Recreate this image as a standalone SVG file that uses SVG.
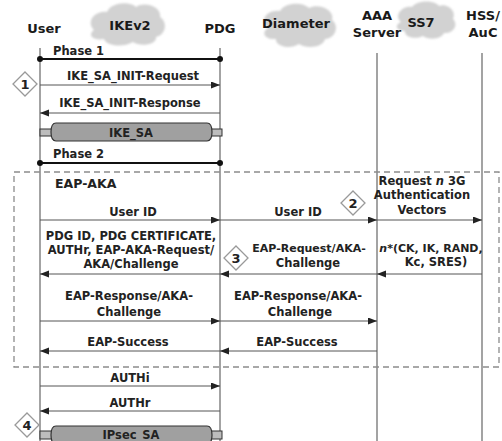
<svg xmlns="http://www.w3.org/2000/svg" width="502" height="441" viewBox="0 0 502 441">
<style>
text{font-family:"DejaVu Sans","Liberation Sans",sans-serif;font-weight:bold;fill:#222}
.h{font-size:13px;text-anchor:middle;fill:#1a1a1a}
.m{font-size:11.5px;text-anchor:middle}
.life{stroke:#8c8c8c;stroke-width:1.6}
.msg{stroke:#555;stroke-width:1;fill:none;marker-end:url(#ah)}
.phase{stroke:#111;stroke-width:2}
.dot{fill:#111}
.cloud{fill:#d2d2d2;filter:url(#soft)}
.dia{fill:#fff;stroke:#999;stroke-width:1.3}
.num{font-size:13px;text-anchor:middle}
.cyl{fill:#a0a0a0;stroke:#333;stroke-width:1.2}
.cap{fill:#bdbdbd;stroke:#333;stroke-width:1}
</style>
<defs>
<marker id="ah" markerUnits="userSpaceOnUse" markerWidth="10" markerHeight="8" refX="9" refY="3.5" orient="auto">
<path d="M0,0 L9,3.5 L0,7 z" fill="#222"/>
</marker>
<filter id="soft" x="-10%" y="-10%" width="120%" height="120%"><feGaussianBlur stdDeviation="0.8"/></filter>
</defs>

<!-- clouds -->
<g id="cloud-ikev2">
<path class="cloud" d="M94,30 C85,21 96,10 107,12 C111,2 130,1 136,7 C145,1 162,7 160,17 C168,22 166,35 156,37 C157,45 140,47 133,42 C123,48 106,46 104,39 C93,41 87,35 94,30 z"/>
<text class="h" x="130" y="30">IKEv2</text>
</g>
<g id="cloud-diameter">
<path class="cloud" d="M268,28 C258,20 268,9 280,11 C285,2 303,2 309,8 C319,3 335,10 332,20 C340,26 335,39 325,39 C323,48 306,49 299,44 C290,50 275,46 276,39 C264,40 261,32 268,28 z"/>
<text class="h" x="296" y="28">Diameter</text>
</g>
<g id="cloud-ss7">
<path class="cloud" d="M401,22 C393,15 403,5 412,7 C418,0 434,0 439,6 C447,3 457,11 453,19 C459,25 453,34 444,33 C441,40 428,40 423,36 C415,40 404,37 405,31 C396,31 394,25 401,22 z"/>
<text class="h" x="421" y="27">SS7</text>
</g>

<!-- entities -->
<g id="user"><text class="h" x="44" y="33">User</text><line class="life" x1="40" y1="48" x2="40" y2="441"/></g>
<g id="pdg"><text class="h" x="220" y="33">PDG</text><line class="life" x1="220" y1="48" x2="220" y2="441"/></g>
<g id="aaa"><text class="h" x="377" y="20">AAA</text><text class="h" x="377" y="37">Server</text><line class="life" x1="377" y1="53" x2="377" y2="441"/></g>
<g id="hss"><text class="h" x="483" y="20">HSS/</text><text class="h" x="483" y="37">AuC</text><line class="life" x1="482" y1="53" x2="482" y2="441"/></g>

<!-- EAP-AKA frame -->
<g id="eap-aka">
<rect x="14" y="172" width="485" height="195" fill="none" stroke="#8c8c8c" stroke-width="1.3" stroke-dasharray="6,4"/>
<text x="55" y="188" style="font-size:12.5px">EAP-AKA</text>
</g>

<!-- phases -->
<g id="phase1">
<line class="phase" x1="40" y1="59" x2="220" y2="59"/><circle class="dot" cx="40" cy="59" r="3"/><circle class="dot" cx="220" cy="59" r="3"/>
<text x="53" y="55" style="font-size:11.5px">Phase 1</text>
</g>
<g id="phase2">
<line class="phase" x1="40" y1="163" x2="220" y2="163"/><circle class="dot" cx="40" cy="163" r="3"/><circle class="dot" cx="220" cy="163" r="3"/>
<text x="53" y="158" style="font-size:11.5px">Phase 2</text>
</g>

<!-- tunnels -->
<g id="ike-sa">
<rect class="cap" x="40" y="129" width="15" height="7"/>
<rect class="cap" x="207" y="129" width="15" height="7"/>
<path class="cyl" d="M56,123 L207,123 Q212,123 212,132 Q212,141 207,141 L56,141 Q51,141 51,132 Q51,123 56,123 z"/>
<text class="m" x="131" y="137">IKE_SA</text>
</g>
<g id="ipsec-sa">
<rect class="cap" x="40" y="431" width="15" height="8"/>
<rect class="cap" x="207" y="431" width="15" height="8"/>
<path class="cyl" d="M56,426 L207,426 Q212,426 212,435 Q212,444 207,444 L56,444 Q51,444 51,435 Q51,426 56,426 z"/>
<text class="m" x="131" y="439">IPsec_SA</text>
</g>

<!-- step markers -->
<g id="step1"><path class="dia" d="M25,72 L37,84 L25,96 L13,84 z"/><text class="num" x="25" y="89">1</text></g>
<g id="step2"><path class="dia" d="M353,191 L365,203 L353,215 L341,203 z"/><text class="num" x="353" y="208">2</text></g>
<g id="step3"><path class="dia" d="M236,246 L248,258 L236,270 L224,258 z"/><text class="num" x="236" y="263">3</text></g>
<g id="step4"><path class="dia" d="M27,413 L39,425 L27,437 L15,425 z"/><text class="num" x="27" y="430">4</text></g>

<!-- connectors -->
<g id="connectors">
<line class="msg" x1="40" y1="85" x2="220" y2="85"/>
<line class="msg" x1="220" y1="113" x2="40" y2="113"/>
<line class="msg" x1="40" y1="220" x2="220" y2="220"/>
<line class="msg" x1="220" y1="220" x2="377" y2="220"/>
<line class="msg" x1="377" y1="220" x2="482" y2="220"/>
<line class="msg" x1="482" y1="274" x2="377" y2="274"/>
<line class="msg" x1="377" y1="274" x2="220" y2="274"/>
<line class="msg" x1="220" y1="274" x2="40" y2="274"/>
<line class="msg" x1="40" y1="321" x2="220" y2="321"/>
<line class="msg" x1="220" y1="321" x2="377" y2="321"/>
<line class="msg" x1="377" y1="351" x2="220" y2="351"/>
<line class="msg" x1="220" y1="351" x2="40" y2="351"/>
<line class="msg" x1="40" y1="386" x2="220" y2="386"/>
<line class="msg" x1="220" y1="411" x2="40" y2="411"/>
</g>

<!-- labels -->
<g id="labels">
<text class="m" x="133" y="80">IKE_SA_INIT-Request</text>
<text class="m" x="130" y="107">IKE_SA_INIT-Response</text>
<text class="m" x="133" y="216">User ID</text>
<text class="m" x="298" y="216">User ID</text>
<text class="m" x="422" y="185">Request <tspan style="font-style:italic">n</tspan> 3G</text>
<text class="m" x="422" y="199">Authentication</text>
<text class="m" x="422" y="214">Vectors</text>
<text class="m" x="131" y="240">PDG ID, PDG CERTIFICATE,</text>
<text class="m" x="131" y="254">AUTHr, EAP-AKA-Request/</text>
<text class="m" x="131" y="268">AKA/Challenge</text>
<text class="m" x="309" y="252" style="font-size:11px">EAP-Request/AKA-</text>
<text class="m" x="308" y="267">Challenge</text>
<text class="m" x="431" y="252" style="font-size:11px"><tspan style="font-style:italic">n</tspan>*(CK, IK, RAND,</text>
<text class="m" x="436" y="266">Kc, SRES)</text>
<text class="m" x="129" y="300">EAP-Response/AKA-</text>
<text class="m" x="129" y="316">Challenge</text>
<text class="m" x="298" y="300">EAP-Response/AKA-</text>
<text class="m" x="300" y="316">Challenge</text>
<text class="m" x="128" y="346">EAP-Success</text>
<text class="m" x="297" y="346">EAP-Success</text>
<text class="m" x="130" y="382">AUTHi</text>
<text class="m" x="130" y="407">AUTHr</text>
</g>
</svg>
